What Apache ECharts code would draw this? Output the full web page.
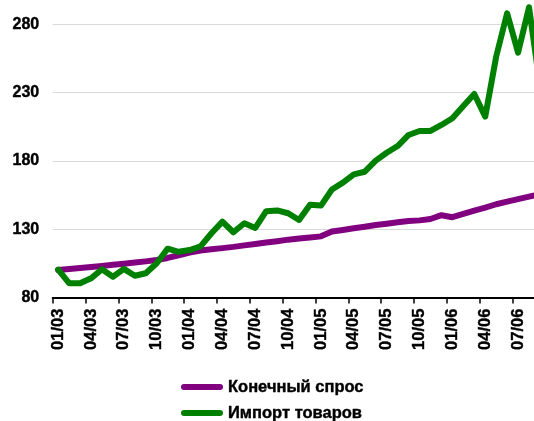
<!DOCTYPE html>
<html>
<head>
<meta charset="utf-8">
<script src="https://cdn.jsdelivr.net/npm/echarts@6/dist/echarts.min.js"></script>
<style>
html,body{margin:0;padding:0;background:#fff;overflow:hidden;width:534px;height:421px;position:relative;}
#chart{position:absolute;left:0;top:-10px;width:546px;height:451px;}
</style>
</head>
<body>
<div id="chart"></div>
<script>
var categories = ['01/03','02/03','03/03','04/03','05/03','06/03','07/03','08/03','09/03','10/03','11/03','12/03',
  '01/04','02/04','03/04','04/04','05/04','06/04','07/04','08/04','09/04','10/04','11/04','12/04',
  '01/05','02/05','03/05','04/05','05/05','06/05','07/05','08/05','09/05','10/05','11/05','12/05',
  '01/06','02/06','03/06','04/06','05/06','06/06','07/06','08/06','09/06'];

var finalDemandName = 'Конечный спрос';
var goodsImportName = 'Импорт товаров';

var finalDemand = [100.2, 101.0, 101.7, 102.4, 103.2, 104.0, 104.8, 105.6, 106.5, 107.5, 109.0, 111.0,
  113.0, 114.5, 115.3, 116.2, 117.1, 118.2, 119.2, 120.3, 121.3, 122.4, 123.2, 124.0,
  124.8, 128.3, 129.5, 130.7, 131.9, 133.1, 134.1, 135.1, 136.1, 136.5, 137.5, 140.3,
  138.8, 141.2, 143.6, 145.8, 148.3, 150.2, 152.0, 153.9, 155.6];

var goodsImport = [100.5, 90.5, 90.5, 94.1, 100.7, 95.3, 101.0, 96.0, 97.8, 105.1, 115.8, 113.5,
  114.8, 117.5, 127.1, 135.6, 127.8, 134.4, 131.0, 143.2, 143.8, 141.7, 136.8, 148.0,
  147.3, 159.1, 164.1, 170.2, 172.1, 180.2, 186.0, 190.9, 199.0, 201.9, 201.9, 206.3,
  211.2, 220.2, 229.0, 212.4, 256.3, 288.0, 259.2, 292.4, 235.0];

var yMin = 80, yMax = 300, yStep = 50;

var chart = echarts.init(document.getElementById('chart'), null, {renderer: 'canvas'});
var font = 'Arial';
chart.setOption({
  animation: false,
  backgroundColor: '#ffffff',
  textStyle: {fontFamily: font, fontWeight: 'bold'},
  grid: {left: 52.7, right: 0.55, top: 6.9, bottom: 143.4, containLabel: false},
  xAxis: {
    type: 'category',
    data: categories,
    boundaryGap: true,
    axisLine: {show: true, lineStyle: {color: '#000', width: 2}},
    axisTick: {show: true, interval: 2, length: 6, lineStyle: {color: '#000', width: 1.5}},
    axisLabel: {interval: 2, rotate: 90, margin: 11, color: '#000', fontSize: 16.5, fontWeight: 'bold', fontFamily: font,
      textBorderColor: '#000', textBorderWidth: 0.4},
    splitLine: {show: false}
  },
  yAxis: {
    type: 'value',
    min: yMin, max: yMax, interval: yStep,
    axisLine: {show: false},
    axisTick: {show: false},
    axisLabel: {
      margin: 13.5, color: '#000', fontSize: 16, fontWeight: 'bold', fontFamily: font,
      textBorderColor: '#000', textBorderWidth: 0.4,
      formatter: function (v) { return v >= yMax ? '' : String(v); }
    },
    splitLine: {show: true, lineStyle: {color: '#d9d9d9', width: 1}}
  },
  legend: {
    orient: 'vertical',
    left: 181, top: 388, padding: 0,
    itemWidth: 42, itemHeight: 6, itemGap: 8,
    icon: 'path://M3,0 L39,0 A3,3 0 0 1 39,6 L3,6 A3,3 0 0 1 3,0 Z',
    textStyle: {color: '#000', fontSize: 16.5, fontWeight: 'bold', fontFamily: font, lineHeight: 18,
      textBorderColor: '#000', textBorderWidth: 0.4},
    data: [finalDemandName, goodsImportName]
  },
  series: [
    {
      name: finalDemandName, type: 'line', data: finalDemand,
      symbol: 'none', showSymbol: false,
      itemStyle: {color: '#800080'},
      lineStyle: {color: '#800080', width: 6, join: 'round', cap: 'round'}
    },
    {
      name: goodsImportName, type: 'line', data: goodsImport,
      symbol: 'none', showSymbol: false,
      itemStyle: {color: '#008000'},
      lineStyle: {color: '#008000', width: 6, join: 'round', cap: 'round'}
    }
  ]
});
</script>
</body>
</html>
